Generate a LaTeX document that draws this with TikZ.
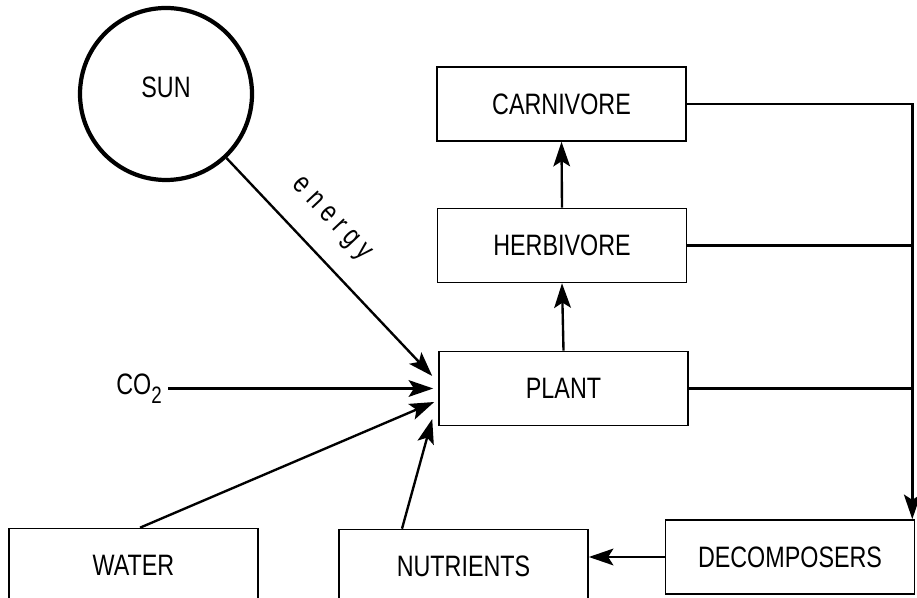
\documentclass[tikz,border=0pt]{standalone}
\usepackage{fontspec}
\setmainfont{Liberation Sans}[FakeStretch=0.79]
\usetikzlibrary{arrows.meta}
\newcommand{\lsp}{\kern0.22em}

\begin{document}
\begin{tikzpicture}
[boxstyle/.style={draw,line width=0.9pt,minimum width=4.98cm,minimum height=1.48cm,font=\fontsize{16.8}{20}\selectfont},%
 sunstyle/.style={draw,circle,line width=2.4pt,minimum size=3.44cm,text depth=0.28cm,font=\fontsize{16.8}{20}\selectfont},%
 flowstyle/.style={line width=1.35pt,-{Stealth[length=14pt,width=9.5pt,inset=3pt]}},%
 linkstyle/.style={line width=1.6pt}]
\useasboundingbox (0,0) rectangle (18.34,11.96);
%% sun, food chain and inputs
\node[sunstyle] (sun) at (3.32,10.08) {SUN};
\node[boxstyle] (carnivore) at (11.23,9.88) {CARNIVORE};
\node[boxstyle] (herbivore) at (11.24,7.05) {HERBIVORE};
\node[boxstyle] (plant) at (11.27,4.19) {PLANT};
\node[boxstyle] (water) at (2.67,0.65) {WATER};
\node[boxstyle] (nutrients) at (9.27,0.63) {NUTRIENTS};
\node[boxstyle] (decomposers) at (15.8,0.82) {DECOMPOSERS};
\node[anchor=east,font=\fontsize{16.8}{20}\selectfont] (co2) at (3.36,4.19) {CO\raisebox{-5pt}{\fontsize{13.5}{15}\selectfont 2}};
%% where the arrows meet the plant
\coordinate (sunin) at ([shift={(-0.12,0.25)}]plant.west);
\coordinate (co2in) at ([xshift=-0.1cm]plant.west);
\coordinate (waterin) at ([shift={(-0.08,-0.27)}]plant.west);
\coordinate (nutrin) at ([shift={(-0.12,-0.61)}]plant.west);
\coordinate (rail) at ([xshift=-0.06cm]decomposers.north east);
%% inputs to the plant
\draw[flowstyle] (sun) -- (sunin) node[pos=0.39,sloped,above=0.42cm,inner sep=0,font=\fontsize{16.8}{20}\selectfont]{e\lsp n\lsp e\lsp r\lsp g\lsp y};
\draw[flowstyle] (co2) -- (co2in);
\draw[flowstyle] ([xshift=0.13cm]water.north) -- (waterin);
\draw[flowstyle] ([xshift=-1.23cm]nutrients.north) -- (nutrin);
%% up the food chain
\draw[flowstyle] (plant.north) -- (herbivore.south);
\draw[flowstyle] (herbivore.north) -- (carnivore.south);
%% to the decomposers and back
\draw[flowstyle,linkstyle] (carnivore.east) -| (rail);
\draw[linkstyle] (herbivore.east) -- (herbivore.east -| rail);
\draw[linkstyle] (plant.east) -- (plant.east -| rail);
\draw[flowstyle] (decomposers.west) -- (decomposers.west -| nutrients.east);
\end{tikzpicture}
\end{document}
